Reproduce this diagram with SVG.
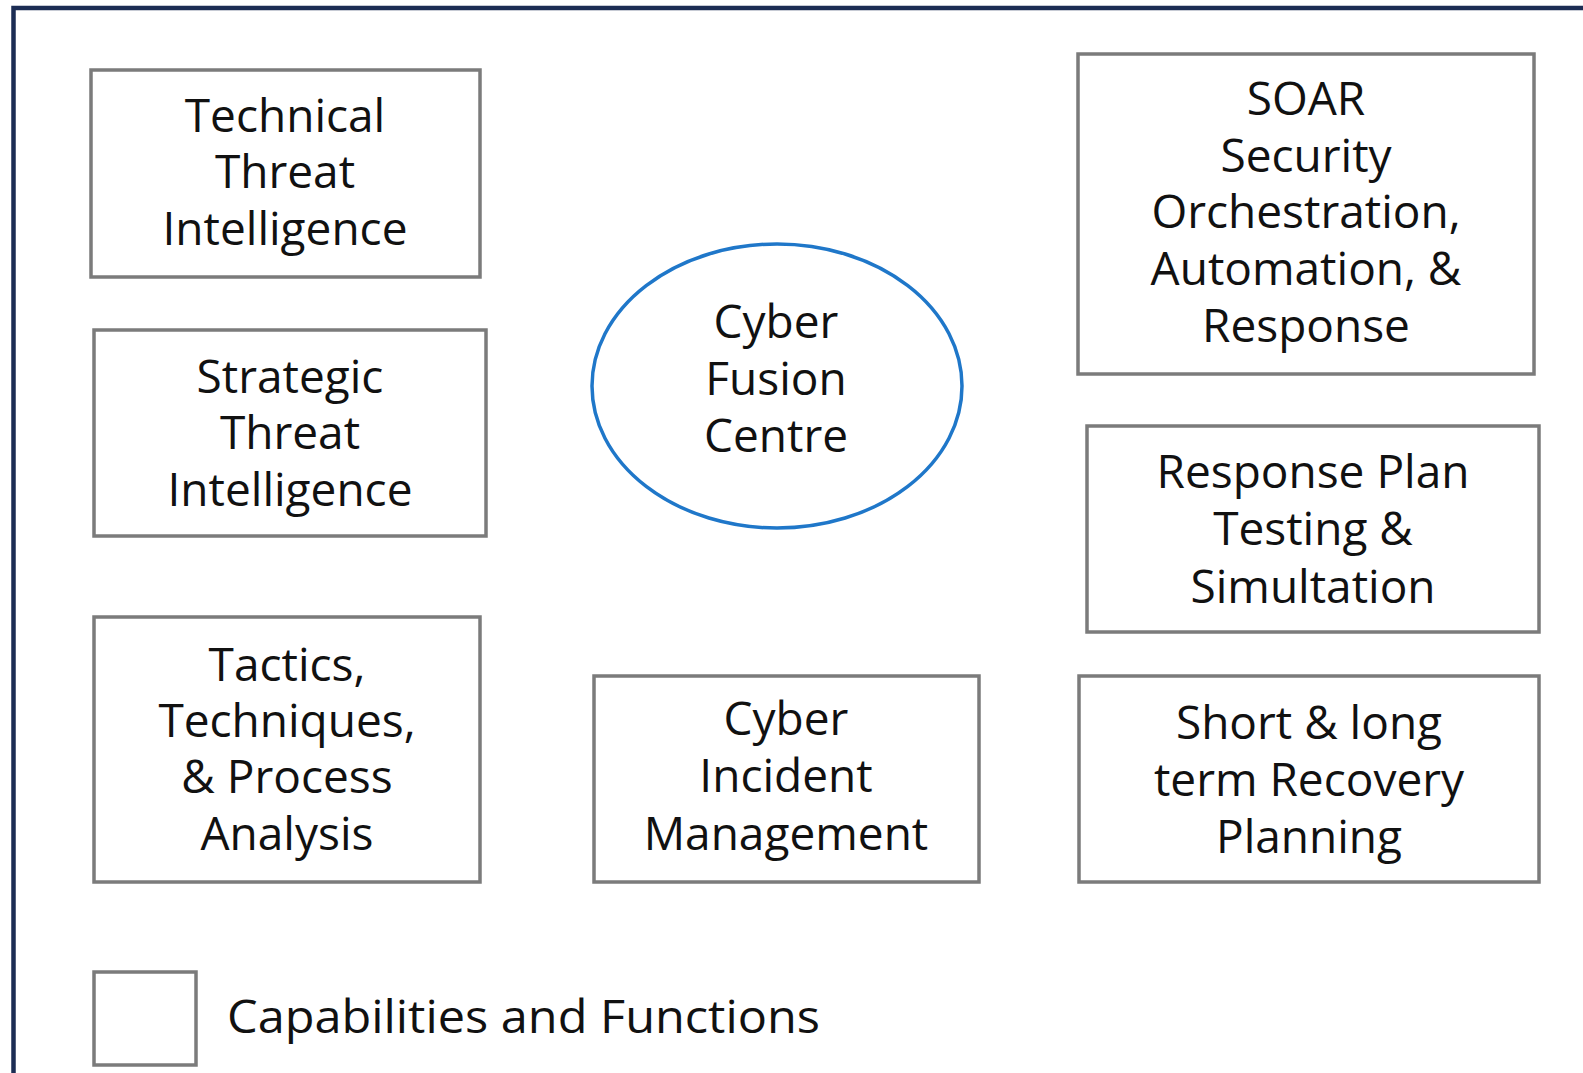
<svg xmlns="http://www.w3.org/2000/svg" width="1583" height="1073" viewBox="0 0 1583 1073">
<style>
.box{fill:#fff;stroke:#7b7b7b;stroke-width:3.5}
.ell{fill:#fff;stroke:#1f77c9;stroke-width:3.5}
.t{font-family:"Open Sans","Noto Sans",sans-serif;font-size:46px;fill:#111;text-anchor:middle}
.lg{font-family:"Open Sans","Noto Sans",sans-serif;font-size:46px;fill:#111}
</style>
<rect x="0" y="0" width="1583" height="1073" fill="#fff"/>
<path d="M13.5,1073 V8 H1583" fill="none" stroke="#1c2d54" stroke-width="4.5"/>
<g id="connectors"/>
<g id="technical">
<rect class="box" x="91" y="70" width="389" height="207"/>
<text class="t" x="285" y="132">Technical</text>
<text class="t" x="285" y="188">Threat</text>
<text class="t" x="285" y="245">Intelligence</text>
</g>
<g id="strategic">
<rect class="box" x="94" y="330" width="392" height="206"/>
<text class="t" x="290" y="393">Strategic</text>
<text class="t" x="290" y="449">Threat</text>
<text class="t" x="290" y="506">Intelligence</text>
</g>
<g id="ttp">
<rect class="box" x="94" y="617" width="386" height="265"/>
<text class="t" x="287" y="681">Tactics,</text>
<text class="t" x="287" y="737">Techniques,</text>
<text class="t" x="287" y="793">&amp; Process</text>
<text class="t" x="287" y="850">Analysis</text>
</g>
<g id="fusion">
<ellipse class="ell" cx="777" cy="386" rx="185" ry="142"/>
<text class="t" x="776" y="338">Cyber</text>
<text class="t" x="776" y="395">Fusion</text>
<text class="t" x="776" y="452">Centre</text>
</g>
<g id="incident">
<rect class="box" x="594" y="676" width="385" height="206"/>
<text class="t" x="786" y="735">Cyber</text>
<text class="t" x="786" y="792">Incident</text>
<text class="t" x="786" y="850">Management</text>
</g>
<g id="soar">
<rect class="box" x="1078" y="54" width="456" height="320"/>
<text class="t" x="1306" y="115">SOAR</text>
<text class="t" x="1306" y="172">Security</text>
<text class="t" x="1306" y="228">Orchestration,</text>
<text class="t" x="1306" y="285">Automation, &amp;</text>
<text class="t" x="1306" y="342">Response</text>
</g>
<g id="response-plan">
<rect class="box" x="1087" y="426" width="452" height="206"/>
<text class="t" x="1313" y="488">Response Plan</text>
<text class="t" x="1313" y="545">Testing &amp;</text>
<text class="t" x="1313" y="603">Simultation</text>
</g>
<g id="recovery">
<rect class="box" x="1079" y="676" width="460" height="206"/>
<text class="t" x="1309" y="739">Short &amp; long</text>
<text class="t" x="1309" y="796">term Recovery</text>
<text class="t" x="1309" y="853">Planning</text>
</g>
<g id="legend">
<rect class="box" x="94" y="972" width="102" height="93"/>
<text class="lg" x="227" y="1033" textLength="593" lengthAdjust="spacingAndGlyphs">Capabilities and Functions</text>
</g>
</svg>
